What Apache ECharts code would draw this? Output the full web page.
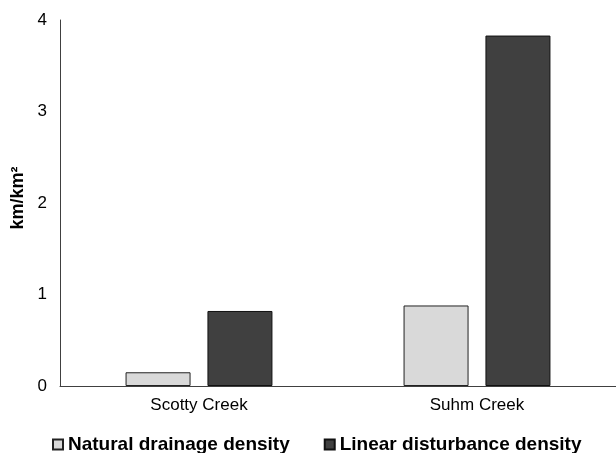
<!DOCTYPE html>
<html>
<head>
<meta charset="utf-8">
<script src="https://cdn.jsdelivr.net/npm/echarts@6/dist/echarts.min.js"></script>
<style>
html,body{margin:0;padding:0;background:#fff;}
#chart{width:616px;height:453px;}
</style>
</head>
<body>
<div id="chart"></div>
<script>
const categories = ['Scotty Creek', 'Suhm Creek'];
const seriesNames = ['Natural drainage density', 'Linear disturbance density'];
const naturalDrainage = [0.15, 0.88];
const linearDisturbance = [0.82, 3.83];
const yTicks = [0, 1, 2, 3, 4];
const yTitle = 'km/km²';

const FONT = '"Liberation Sans", Arial, sans-serif';
const chart = echarts.init(document.getElementById('chart'), null, {renderer: 'canvas'});
chart.setOption({
  backgroundColor: '#ffffff',
  animation: false,
  textStyle: {fontFamily: FONT},
  legend: {
    left: 47,
    top: 430,
    icon: 'rect',
    itemWidth: 10,
    itemHeight: 10,
    itemGap: 34,
    textStyle: {fontFamily: FONT, fontSize: 19, fontWeight: 'bold', color: '#000'},
    data: seriesNames
  },
  grid: {left: 60, top: 20, width: 558, bottom: 67, containLabel: false},
  xAxis: {
    type: 'category',
    data: categories,
    axisLine: {lineStyle: {color: '#404040', width: 1}},
    axisTick: {show: false},
    axisLabel: {fontSize: 17, color: '#000', margin: 11, fontFamily: FONT}
  },
  yAxis: {
    type: 'value',
    min: yTicks[0],
    max: yTicks[yTicks.length - 1],
    interval: 1,
    name: yTitle,
    nameLocation: 'middle',
    nameGap: 31,
    nameTextStyle: {fontSize: 18, fontWeight: 'bold', color: '#000', fontFamily: FONT, padding: [0, 0, 0, 10]},
    axisLine: {show: true, lineStyle: {color: '#404040', width: 1}},
    axisTick: {show: false},
    splitLine: {show: false},
    axisLabel: {fontSize: 17, color: '#000', margin: 13, fontFamily: FONT}
  },
  series: [
    {
      name: seriesNames[0],
      type: 'bar',
      data: naturalDrainage,
      barWidth: 65,
      barGap: '26%',
      itemStyle: {color: '#d9d9d9', borderColor: '#222', borderWidth: 1}
    },
    {
      name: seriesNames[1],
      type: 'bar',
      data: linearDisturbance,
      barWidth: 65,
      barGap: '26%',
      itemStyle: {color: '#404040', borderColor: '#111', borderWidth: 1}
    }
  ]
});
</script>
</body>
</html>
